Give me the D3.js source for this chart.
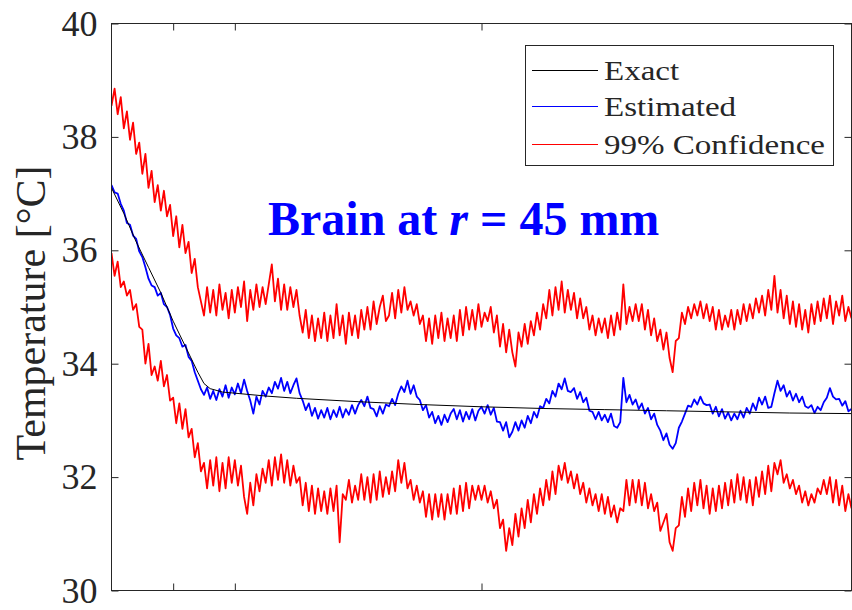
<!DOCTYPE html>
<html>
<head>
<meta charset="utf-8">
<script src="https://cdn.jsdelivr.net/npm/d3@7"></script>
<style>
  body { margin: 0; background: #fff; }
  svg { display: block; }
  text { font-family: "Liberation Serif", "Times New Roman", serif; }
</style>
</head>
<body>
<div id="chart"></div>
<script>
// sampling step of the recorded series (same time axis for all three noisy traces)
var step = 5;

// exact solution, read at a few times
var exactTime = [0, 20, 40, 60, 80, 100, 120, 140, 150, 160, 180, 210, 250, 300, 400, 500, 600, 700, 800, 900, 1000, 1100, 1200];
var exactTemp = [37.1, 36.65, 36.15, 35.7, 35.25, 34.75, 34.3, 33.85, 33.65, 33.56, 33.5, 33.47, 33.43, 33.39, 33.33, 33.28, 33.24, 33.21, 33.19, 33.17, 33.15, 33.13, 33.12];

// estimated temperature
var estimated = [
  37.15, 37.02, 37.0, 36.82, 36.7, 36.48, 36.45, 36.26, 36.2, 35.98,
  35.88, 35.7, 35.5, 35.38, 35.35, 35.2, 35.25, 35.05, 35.0, 34.86,
  34.62, 34.5, 34.45, 34.3, 34.33, 34.12, 34.05, 33.85, 33.7, 33.55,
  33.45, 33.58, 33.38, 33.52, 33.36, 33.55, 33.42, 33.62, 33.4, 33.58,
  33.46, 33.65, 33.48, 33.72, 33.52, 33.35, 33.12, 33.42, 33.28, 33.52,
  33.42, 33.58, 33.48, 33.68, 33.56, 33.75, 33.52, 33.68, 33.48, 33.62,
  33.74, 33.48, 33.35, 33.18, 33.3, 33.08, 33.22, 33.03, 33.18, 33.05,
  33.22, 33.02, 33.18, 33.06, 33.24, 33.05, 33.2, 33.1, 33.27, 33.12,
  33.27, 33.36, 33.25, 33.42, 33.22, 33.2, 33.07, 33.25, 33.12, 33.28,
  33.25, 33.38, 33.27, 33.47, 33.6, 33.5, 33.7, 33.47, 33.62, 33.42,
  33.36, 33.18, 33.27, 33.05, 33.15, 32.95, 33.08, 32.92, 33.1, 32.97,
  33.12, 33.2, 33.02, 33.18, 32.98, 33.15, 33.02, 33.2, 33.0, 33.17,
  33.24, 33.12, 33.27, 33.1, 33.22, 32.98, 32.97, 32.82, 32.97, 32.7,
  32.8, 32.97, 32.82, 33.0, 32.87, 33.08, 32.95, 33.15, 33.05, 33.25,
  33.22, 33.38, 33.3, 33.52, 33.42, 33.65, 33.55, 33.74, 33.52, 33.5,
  33.57, 33.38, 33.5, 33.32, 33.4, 33.17, 33.15, 33.02, 33.15, 33.0,
  33.1, 32.97, 33.12, 32.9, 32.87, 32.97, 33.75, 33.32, 33.45, 33.28,
  33.37, 33.2, 33.3, 33.12, 33.22, 33.02, 33.12, 32.92, 32.82, 32.65,
  32.77, 32.57, 32.5, 32.6, 32.87, 32.98, 33.12, 33.26, 33.24, 33.37,
  33.28, 33.42, 33.3, 33.27, 33.28, 33.12, 33.24, 33.07, 33.2, 33.03,
  33.14, 33.0, 33.12, 33.02, 33.17, 33.05, 33.22, 33.12, 33.3, 33.18,
  33.4, 33.28, 33.42, 33.22, 33.24, 33.48, 33.7, 33.52, 33.62, 33.42,
  33.52, 33.35, 33.47, 33.32, 33.42, 33.25, 33.22, 33.27, 33.13, 33.24,
  33.18, 33.32, 33.4, 33.57, 33.42, 33.37, 33.38, 33.26, 33.34, 33.16,
  33.2
];

// upper 99% bound
var upper = [
  38.55, 38.85, 38.4, 38.7, 38.15, 38.45, 37.95, 38.25, 37.7, 37.9,
  37.35, 37.7, 37.1, 37.4, 36.85, 37.15, 36.7, 37.05, 36.6, 36.8,
  36.25, 36.6, 36.05, 36.45, 35.95, 36.15, 35.6, 35.85, 35.35, 35.1,
  34.85, 35.35, 34.9, 35.3, 34.85, 35.4, 34.95, 35.25, 34.8, 35.3,
  34.9, 35.35, 35.0, 35.45, 34.75, 35.3, 34.95, 35.4, 35.0, 35.35,
  35.05, 35.4, 35.75, 35.1, 35.5, 34.95, 35.4, 34.95, 35.35, 35.0,
  35.3, 34.85, 34.55, 34.95, 34.45, 34.85, 34.4, 34.8, 34.45, 34.9,
  34.4, 34.85, 34.45, 35.05, 34.5, 34.85, 34.35, 34.9, 34.5, 34.85,
  34.45, 34.95, 34.6, 35.0, 34.6, 35.1, 34.7, 35.0, 35.2, 34.75,
  34.85, 35.25, 34.8, 35.3, 34.9, 35.35, 34.95, 35.1, 34.85, 35.05,
  34.7, 34.85, 34.4, 34.8, 34.35, 34.85, 34.45, 34.9, 34.4, 34.8,
  34.45, 34.85, 34.4, 34.95, 34.5, 35.0, 34.6, 34.95, 34.6, 35.05,
  34.65, 34.9, 34.75, 35.0, 34.55, 34.85, 34.3, 34.7, 34.2, 34.6,
  34.2, 33.95, 34.55, 34.3, 34.7, 34.35, 34.75, 34.5, 34.9, 34.6,
  35.05, 34.8, 35.3, 34.85, 35.35, 34.95, 35.45, 34.9, 35.3, 34.95,
  35.25, 34.8, 35.15, 34.8, 35.0, 34.6, 34.85, 34.5, 34.8, 34.55,
  34.8, 34.45, 34.85, 34.5, 34.9, 34.6, 35.4, 34.7, 35.0, 34.75,
  35.05, 34.75, 35.05, 34.6, 34.95, 34.5, 34.8, 34.4, 34.6, 34.25,
  34.55, 34.1, 33.85, 34.4, 34.45, 34.9, 34.7, 35.0, 34.8, 35.05,
  34.85, 35.1, 34.8, 35.05, 34.75, 35.0, 34.6, 34.95, 34.6, 34.85,
  34.65, 34.95, 34.6, 34.95, 34.7, 35.05, 34.75, 35.05, 34.8, 35.15,
  34.9, 35.2, 34.85, 35.3, 34.95, 35.55, 34.9, 35.3, 34.8, 35.2,
  34.7, 35.1, 34.65, 35.05, 34.6, 34.95, 34.55, 35.05, 34.7, 35.1,
  34.75, 35.15, 34.8, 35.2, 34.7, 35.1, 34.85, 35.2, 34.75, 35.0,
  34.8
];

// lower 99% bound
var lower = [
  35.95, 35.55, 35.8, 35.35, 35.45, 35.2, 35.3, 34.95, 35.05, 34.65,
  34.6, 34.0, 34.35, 33.8, 33.95, 33.7, 34.05, 33.6, 33.8, 33.35,
  33.4, 32.95, 33.3, 32.85, 33.2, 32.7, 32.85, 32.35, 32.6, 32.1,
  32.25, 31.8, 32.3, 31.85, 32.35, 31.75, 32.25, 31.8, 32.35, 31.9,
  32.3, 31.85, 32.2, 31.65, 31.35, 31.9, 31.5, 32.05, 31.75, 32.15,
  31.9, 32.3, 31.85, 32.35, 31.95, 32.4, 31.9, 32.3, 31.85, 32.2,
  31.9, 32.0, 31.5, 31.9, 31.4, 31.85, 31.35, 31.8, 31.4, 31.75,
  31.35, 31.8, 31.4, 31.85, 30.85, 31.7, 31.6, 31.95, 31.55, 31.85,
  31.6, 32.05, 31.6, 32.0, 31.55, 32.05, 31.6, 32.1, 31.65, 32.0,
  31.7, 32.1, 31.75, 32.3, 31.9, 32.25, 31.8, 31.95, 31.6, 31.85,
  31.55, 31.75, 31.3, 31.7, 31.25, 31.7, 31.3, 31.7, 31.25, 31.7,
  31.35, 31.8, 31.35, 31.85, 31.4, 31.9, 31.45, 31.85, 31.6, 31.85,
  31.6, 31.85, 31.55, 31.75, 31.45, 31.6, 31.1, 31.25, 30.7, 31.1,
  30.8, 31.35, 30.95, 31.45, 31.1, 31.6, 31.2, 31.7, 31.35, 31.8,
  31.5, 31.95, 31.6, 32.1, 31.7, 32.2, 31.95, 32.25, 31.9, 32.1,
  31.8, 32.05, 31.7, 31.9, 31.55, 31.8, 31.5, 31.7, 31.4, 31.7,
  31.35, 31.65, 31.3, 31.5, 31.2, 31.45, 31.4, 31.95, 31.5, 31.95,
  31.55, 31.95, 31.5, 31.9, 31.45, 31.7, 31.4, 31.55, 31.05, 31.2,
  31.35, 30.85, 30.7, 31.1, 31.15, 31.65, 31.3, 31.8, 31.4, 31.9,
  31.5, 31.95, 31.45, 31.85, 31.35, 31.8, 31.4, 31.85, 31.45, 31.9,
  31.5, 31.95, 31.55, 32.05, 31.6, 32.0, 31.55, 31.95, 31.5, 32.0,
  31.65, 32.1, 31.7, 32.2, 31.75, 32.25, 32.05, 32.3, 31.9, 32.05,
  31.8, 31.95, 31.7, 31.85, 31.55, 31.75, 31.5, 31.7, 31.55, 31.8,
  31.7, 31.95, 31.7, 32.0, 31.55, 31.95, 31.5, 31.85, 31.4, 31.7,
  31.45
];

var yTicks = [30, 32, 34, 36, 38, 40];
var xTicks = [100, 200, 600, 1200];
var legendLabels = ["Exact", "Estimated", "99% Confidence"];
var legendColors = ["#000000", "#0000ff", "#ff0000"];

var width = 852, height = 610;
var plotLeft = 111.5, plotRight = 851.5, plotTop = 23.5, plotBottom = 590.5;

var svg = d3.select("#chart").append("svg")
  .attr("width", width)
  .attr("height", height);

var x = d3.scaleLinear().domain([0, 1200]).range([plotLeft, plotRight]);
var y = d3.scaleLinear().domain([30, 40]).range([plotBottom, plotTop]);

// clip the traces to the axes box
svg.append("clipPath").attr("id", "plotclip")
  .append("rect")
  .attr("x", plotLeft).attr("y", plotTop)
  .attr("width", plotRight - plotLeft).attr("height", plotBottom - plotTop);

var line = d3.line()
  .x(function(d) { return x(d[0]); })
  .y(function(d) { return y(d[1]); });

function sampled(arr) {
  return arr.map(function(v, i) { return [i * step, v]; });
}

var traces = svg.append("g").attr("clip-path", "url(#plotclip)");

traces.append("path")
  .attr("d", line(sampled(upper)))
  .attr("fill", "none").attr("stroke", "#ff0000").attr("stroke-width", 1.8)
  .attr("stroke-linejoin", "round");
traces.append("path")
  .attr("d", line(sampled(lower)))
  .attr("fill", "none").attr("stroke", "#ff0000").attr("stroke-width", 1.8)
  .attr("stroke-linejoin", "round");
traces.append("path")
  .attr("d", line(sampled(estimated)))
  .attr("fill", "none").attr("stroke", "#0000ff").attr("stroke-width", 1.8)
  .attr("stroke-linejoin", "round");
traces.append("path")
  .attr("d", line(exactTime.map(function(t, i) { return [t, exactTemp[i]]; })))
  .attr("fill", "none").attr("stroke", "#000").attr("stroke-width", 1);

// axes box, ticks inside like MATLAB
var axisColor = "#262626";
svg.append("rect")
  .attr("x", plotLeft).attr("y", plotTop)
  .attr("width", plotRight - plotLeft).attr("height", plotBottom - plotTop)
  .attr("fill", "none").attr("stroke", axisColor).attr("stroke-width", 1);

var leftAxis = d3.axisLeft(y).tickValues(yTicks).tickSize(-7).tickPadding(14).tickFormat(d3.format("d"));
var gl = svg.append("g").attr("transform", "translate(" + plotLeft + ",0)").call(leftAxis);
gl.select(".domain").remove();
gl.selectAll("line").attr("stroke", axisColor);
gl.selectAll("text")
  .attr("fill", axisColor)
  .style("font-size", "36px")
  .style("font-family", "'Liberation Serif', 'Times New Roman', serif");

var gr = svg.append("g").attr("transform", "translate(" + plotRight + ",0)")
  .call(d3.axisRight(y).tickValues(yTicks).tickSize(-7).tickFormat(""));
gr.select(".domain").remove();
gr.selectAll("line").attr("stroke", axisColor);

var gb = svg.append("g").attr("transform", "translate(0," + plotBottom + ")")
  .call(d3.axisBottom(x).tickValues(xTicks).tickSize(-7).tickFormat(""));
gb.select(".domain").remove();
gb.selectAll("line").attr("stroke", axisColor);

var gt = svg.append("g").attr("transform", "translate(0," + plotTop + ")")
  .call(d3.axisTop(x).tickValues(xTicks).tickSize(-7).tickFormat(""));
gt.select(".domain").remove();
gt.selectAll("line").attr("stroke", axisColor);

// y label
svg.append("text")
  .attr("transform", "translate(45," + ((plotTop + plotBottom) / 2 + 6) + ") rotate(-90)")
  .attr("text-anchor", "middle")
  .attr("fill", axisColor)
  .style("font-size", "42px")
  .text("Temperature [°C]");

// title inside plot
var title = svg.append("text")
  .attr("x", 268).attr("y", 235)
  .attr("fill", "#0000ff")
  .style("font-size", "48px")
  .style("font-weight", "bold");
title.append("tspan").text("Brain at ");
title.append("tspan").style("font-style", "italic").text("r");
title.append("tspan").text(" = 45 mm");

// legend
var lg = svg.append("g");
lg.append("rect")
  .attr("x", 525.5).attr("y", 45.5).attr("width", 308).attr("height", 120)
  .attr("fill", "#fff").attr("stroke", axisColor).attr("stroke-width", 1);
var rowY = [70.5, 106.5, 144.5];
legendLabels.forEach(function(lab, i) {
  lg.append("line")
    .attr("x1", 532).attr("x2", 598)
    .attr("y1", rowY[i]).attr("y2", rowY[i])
    .attr("stroke", legendColors[i]).attr("stroke-width", 1.2);
  lg.append("text")
    .attr("transform", "translate(604," + rowY[i] + ") scale(1.18,1)")
    .attr("dy", "0.35em")
    .attr("fill", axisColor)
    .style("font-size", "28px")
    .text(lab);
});
</script>
</body>
</html>
